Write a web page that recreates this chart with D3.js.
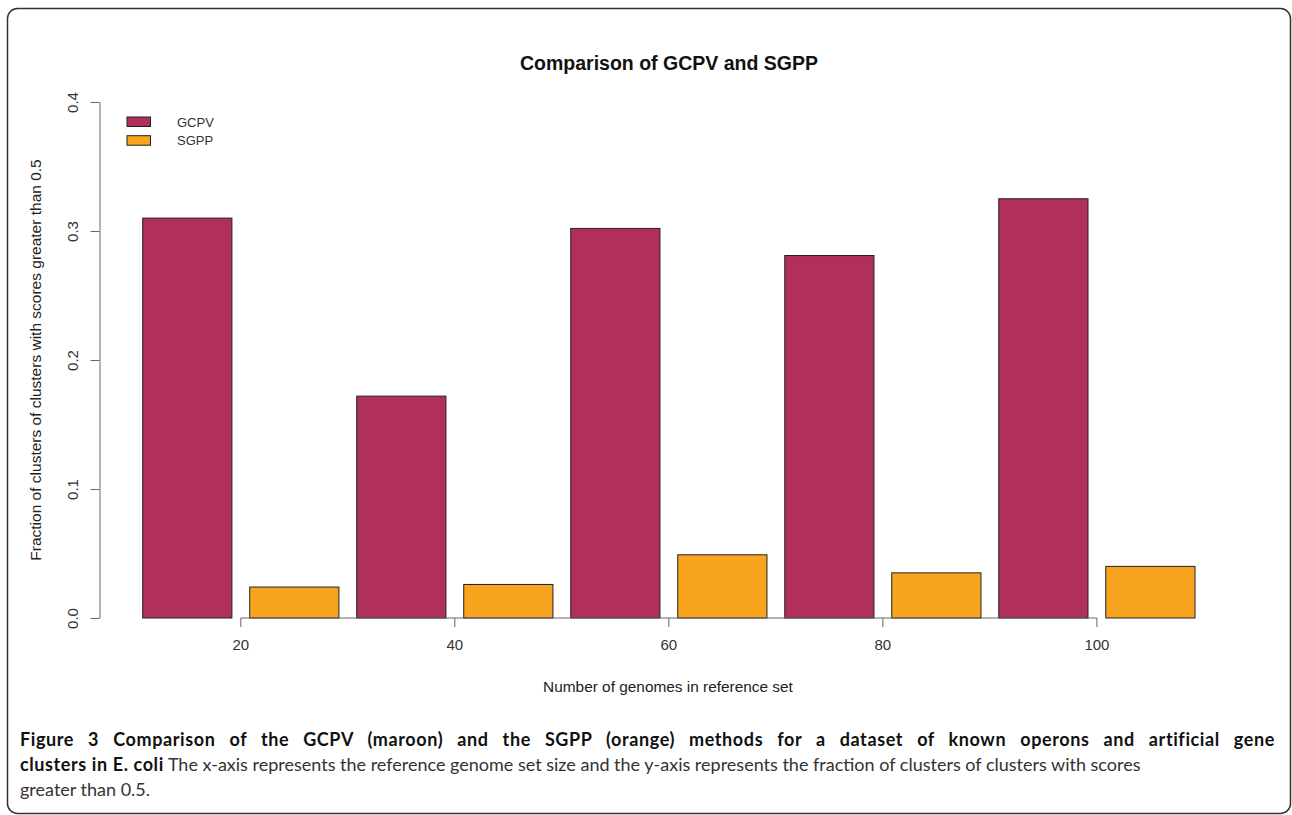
<!DOCTYPE html>
<html>
<head>
  <meta charset="utf-8">
  <title>Comparison of GCPV and SGPP</title>
  <script src="https://d3js.org/d3.v7.min.js"></script>
  <style>
    body { margin: 0; background: #fff; }
    .tick text { font-family: "Liberation Sans", Arial, sans-serif; font-size: 15px; fill: #333; }
    .tick line { stroke: #666; }
    .bar { stroke: #222; stroke-width: 1; }
    .caption { font-family: Lato, "Open Sans", sans-serif; font-size: 18px; fill: #333; }
    .caption .b { font-weight: bold; fill: #111; }
  </style>
</head>
<body>
  <svg width="1292" height="815"></svg>

  <script>
    // data
    const genomes = [20, 40, 60, 80, 100];
    const series = ["GCPV", "SGPP"];
    const gcpv = [0.310, 0.172, 0.302, 0.281, 0.325];
    const sgpp = [0.024, 0.026, 0.049, 0.035, 0.040];
    const yTicks = [0, 0.1, 0.2, 0.3, 0.4];
    const colors = { GCPV: "#b02f5d", SGPP: "#f8a41e" };

    const svg = d3.select("svg");

    // rounded frame round figure + caption
    svg.append("rect")
      .attr("x", 7.5).attr("y", 8.5)
      .attr("width", 1283).attr("height", 805)
      .attr("rx", 10).attr("ry", 10)
      .attr("fill", "none").attr("stroke", "#333").attr("stroke-width", 1.5);

    const x0 = d3.scaleBand()
      .domain(genomes)
      .range([142.7, 1195])
      .paddingInner(17.8 / 214)
      .paddingOuter(0);

    const x1 = d3.scaleBand()
      .domain(series)
      .range([0, x0.bandwidth()])
      .paddingInner(17.8 / 107)
      .paddingOuter(0);

    const y = d3.scaleLinear().domain([0, 0.4]).range([618, 102]);

    const rows = genomes.map((g, i) => ({ g: g, GCPV: gcpv[i], SGPP: sgpp[i] }));

    const groups = svg.append("g").selectAll("g")
      .data(rows)
      .enter().append("g")
      .attr("transform", d => `translate(${x0(d.g)},0)`);

    groups.selectAll("rect")
      .data(d => series.map(s => ({ s: s, v: d[s] })))
      .enter().append("rect")
      .attr("class", "bar")
      .attr("x", d => x1(d.s))
      .attr("y", d => y(d.v))
      .attr("width", x1.bandwidth())
      .attr("height", d => y(0) - y(d.v))
      .attr("fill", d => colors[d.s]);

    // x axis: line only between first and last tick, like R's axis()
    const xAxis = svg.append("g")
      .attr("transform", `translate(0,${y(0)})`)
      .call(d3.axisBottom(x0).tickSize(9).tickSizeOuter(0).tickPadding(12));
    xAxis.select(".domain").remove();
    const xc = g => x0(g) + x0.bandwidth() / 2;
    xAxis.append("line")
      .attr("x1", xc(genomes[0])).attr("x2", xc(genomes[genomes.length - 1]))
      .attr("stroke", "#666");

    // y axis with rotated labels
    const yAxis = svg.append("g")
      .attr("transform", "translate(99.5,0)")
      .call(d3.axisLeft(y).tickValues(yTicks).tickFormat(d3.format(".1f")).tickSize(9).tickSizeOuter(0));
    yAxis.select(".domain").attr("stroke", "#666");
    yAxis.selectAll(".tick text")
      .attr("transform", "rotate(-90)")
      .attr("x", 0).attr("y", -27)
      .attr("dy", "0.35em")
      .attr("text-anchor", "middle");

    const lab = "'Liberation Sans', Arial, sans-serif";

    svg.append("text")
      .attr("x", 669).attr("y", 70)
      .attr("text-anchor", "middle")
      .style("font-family", lab).style("font-size", "19.5px").style("font-weight", "bold")
      .attr("fill", "#111")
      .text("Comparison of GCPV and SGPP");

    svg.append("text")
      .attr("x", 668).attr("y", 692)
      .attr("text-anchor", "middle")
      .style("font-family", lab).style("font-size", "15.4px")
      .attr("fill", "#222")
      .text("Number of genomes in reference set");

    svg.append("text")
      .attr("transform", "translate(41,360) rotate(-90)")
      .attr("text-anchor", "middle")
      .style("font-family", lab).style("font-size", "15.5px")
      .attr("fill", "#222")
      .text("Fraction of clusters of clusters with scores greater than 0.5");

    // legend
    const legend = svg.append("g").selectAll("g")
      .data(series)
      .enter().append("g")
      .attr("transform", (d, i) => `translate(127,${117 + i * 18.7})`);
    legend.append("rect")
      .attr("width", 23.5).attr("height", 9.5)
      .attr("fill", d => colors[d])
      .attr("stroke", "#222");
    legend.append("text")
      .attr("x", 50).attr("y", 5).attr("dy", "0.35em")
      .style("font-family", lab).style("font-size", "13px")
      .attr("fill", "#333")
      .text(d => d);

    // caption; first line justified by widening word gaps
    const cap = svg.append("g").attr("class", "caption");
    const l1 = cap.append("text")
      .attr("x", 20).attr("y", 746)
      .attr("class", "b")
      .style("letter-spacing", "0.6px")
      .text("Figure 3 Comparison of the GCPV (maroon) and the SGPP (orange) methods for a dataset of known operons and artificial gene");
    const gaps = l1.text().split(" ").length - 1;
    const extra = (1255 - l1.node().getComputedTextLength()) / gaps;
    l1.style("word-spacing", Math.max(0, extra) + "px");
    const l2 = cap.append("text").attr("x", 20).attr("y", 771);
    l2.append("tspan").attr("class", "b").style("letter-spacing", "0.6px").text("clusters in E. coli");
    l2.append("tspan").text(" The x-axis represents the reference genome set size and the y-axis represents the fraction of clusters of clusters with scores");
    cap.append("text").attr("x", 20).attr("y", 796).text("greater than 0.5.");
  </script>
</body>
</html>
